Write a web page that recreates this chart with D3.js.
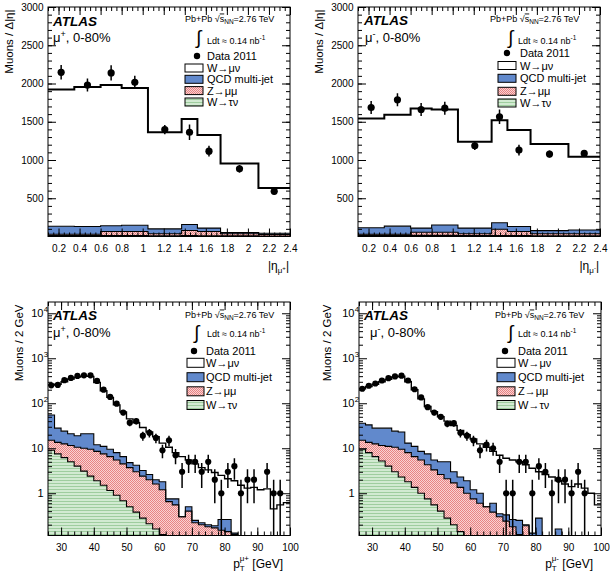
<!DOCTYPE html>
<html><head><meta charset="utf-8">
<script src="https://cdn.jsdelivr.net/npm/d3@7"></script>
<style>
body{margin:0;background:#fff;}
svg text{font-family:"Liberation Sans",Arial,Helvetica,sans-serif;}
</style></head><body>
<svg id="c" width="610" height="577"></svg>
<script>
// ---------------- DATA ----------------
const etaEdges = [0.1, 0.35, 0.6, 0.8, 1.05, 1.37, 1.52, 1.74, 2.1, 2.4];
const etaTicks = [0.2, 0.4, 0.6, 0.8, 1.0, 1.2, 1.4, 1.6, 1.8, 2.0, 2.2, 2.4];
const etaYTicks = [500, 1000, 1500, 2000, 2500, 3000];

const etaPlusData   = [2146, 1980, 2138, 2015, 1398, 1363, 1115, 885, 590];
const etaPlusErr    = [95, 85, 100, 85, 60, 100, 70, 50, 40];
const etaPlusWmunu  = [1786, 1825, 1840, 1793, 1263, 1381, 1218, 903, 590];
const etaPlusQCD    = [104, 100, 75, 82, 65, 78, 45, 17, 17];
const etaPlusZmumu  = [17, 17, 52, 52, 25, 66, 55, 27, 20];
const etaPlusWtaunu = [13, 13, 13, 13, 10, 12, 10, 8, 6];

const etaMinusData   = [1686, 1786, 1660, 1678, 1186, 1564, 1130, 1078, 1086];
const etaMinusErr    = [85, 85, 85, 85, 55, 95, 70, 45, 45];
const etaMinusWmunu  = [1427, 1455, 1563, 1510, 1129, 1341, 1261, 1132, 958];
const etaMinusQCD    = [85, 105, 55, 95, 75, 85, 65, 42, 50];
const etaMinusZmumu  = [15, 15, 40, 40, 23, 81, 53, 25, 26];
const etaMinusWtaunu = [15, 15, 15, 15, 12, 14, 12, 10, 9];

const ptEdges = d3.range(26, 101, 2); // 2 GeV bins, 26-100 GeV
const ptTicks = [30, 40, 50, 60, 70, 80, 90, 100];
const ptYTicks = [1, 10, 100, 1000, 10000];

const ptPlusData   = [250, 255, 325, 365, 405, 418, 418, 313, 200, 138, 98, 62, 37, 40, 19, 22, 17, 9, 15, 7, 3, 5, 5, 3, 5, 2, 1, 3, 4, 1, 2, 2, 0, 3, 1, 1, 0];
const ptPlusErr    = [16, 16, 18, 19, 20, 20, 20, 18, 14, 12, 10, 8, 6, 6.3, 4.4, 4.7, 4.1, 3, 3.9, 2.6, 1.7, 2.2, 2.2, 1.7, 2.2, 1.4, 1, 1.7, 2, 1, 1.4, 1.4, 0, 1.7, 1, 1, 0];
const ptPlusWmunu  = [200, 237, 276, 324, 361, 379, 374, 278, 179, 125.5, 84, 57.5, 40.2, 32.8, 25.8, 20.4, 16, 11.2, 9.75, 7.25, 6.2, 5.0, 4.25, 3.48, 3.1, 2.71, 2.24, 1.84, 1.77, 1.4, 1.22, 1.29, 1.15, 1.21, 0.42, 0.52, 0.6];
const ptPlusQCD    = [40, 14.5, 11.5, 9.5, 8.5, 11, 11.5, 3.5, 3.5, 3.0, 2.5, 2.0, 1.1, 1.2, 0.8, 0.6, 0.4, 0.6, 0.1, 0.2, 0, 0.1, 0.03, 0.02, 0.02, 0.02, 0.11, 0.12, 0.01, 0, 0, 0, 0, 0, 0, 0, 0];
const ptPlusZmumu  = [6, 6, 6.3, 6.5, 6.5, 6.9, 7.1, 6.6, 6.0, 5.35, 4.6, 3.82, 3.2, 2.62, 2.12, 1.79, 1.44, 1.08, 0.57, 0.49, 0.25, 0.36, 0.19, 0.18, 0.16, 0.16, 0.14, 0.13, 0.12, 0.1, 0.08, 0.06, 0.05, 0.04, 0.03, 0.03, 0.02];
const ptPlusWtaunu = [9, 7.5, 6.2, 5.0, 4.0, 3.1, 2.4, 1.9, 1.5, 1.15, 0.9, 0.68, 0.5, 0.38, 0.28, 0.21, 0.16, 0.12, 0.08, 0.06, 0.05, 0.04, 0.03, 0.02, 0.02, 0.01, 0.01, 0.01, 0, 0, 0, 0, 0, 0, 0, 0, 0];

const ptMinusData   = [210, 245, 275, 320, 360, 395, 410, 320, 205, 135, 82, 62, 50, 35, 36, 22, 19, 15, 9, 12, 10, 5, 1, 1, 5, 5, 1, 4, 3, 1, 2, 2, 1, 3, 1, 0, 0];
const ptMinusErr    = [14.5, 15.7, 16.6, 17.9, 19, 19.9, 20.2, 17.9, 14.3, 11.6, 9.1, 7.9, 7.1, 5.9, 6, 4.7, 4.4, 3.9, 3, 3.5, 3.2, 2.2, 1, 1, 2.2, 2.2, 1, 2, 1.7, 1, 1.4, 1.4, 1, 1.7, 1, 0, 0];
const ptMinusWmunu  = [174, 202, 237, 272, 312, 361, 377, 287, 189, 116.5, 77.5, 59.5, 45, 35, 29, 22.7, 18.1, 14.8, 11.5, 10, 7.9, 6.65, 5.67, 5.24, 4.75, 4.1, 3.47, 2.72, 2.5, 2.22, 1.74, 1.52, 1.35, 1.56, 1.27, 0.97, 0.52];
const ptMinusQCD    = [21, 19.5, 15.5, 16.5, 17, 13.5, 13.5, 5, 4.5, 3, 3.2, 2.2, 2.4, 2.9, 1.3, 0.95, 0.9, 0.45, 0.4, 0, 0.22, 0.05, 0.09, 0.08, 0.13, 0.01, 0.03, 0.2, 0.04, 0.03, 0.12, 0.05, 0.02, 0.02, 0.01, 0.01, 0.01];
const ptMinusZmumu  = [5.5, 5.5, 6.0, 6.3, 7.0, 7.5, 7.2, 6.2, 5.15, 4.5, 3.55, 2.75, 2.2, 1.82, 1.5, 1.21, 0.9, 0.68, 0.55, 0.46, 0.35, 0.28, 0.22, 0.17, 0.11, 0.19, 0.1, 0.08, 0.06, 0.05, 0.04, 0.03, 0.03, 0.02, 0.02, 0.02, 0.02];
const ptMinusWtaunu = [9.5, 8, 6.5, 5.2, 4.0, 3.0, 2.3, 1.8, 1.35, 1.0, 0.75, 0.55, 0.4, 0.28, 0.2, 0.14, 0.1, 0.07, 0.05, 0.04, 0.03, 0.02, 0.02, 0.01, 0.01, 0, 0, 0, 0, 0, 0, 0, 0, 0, 0, 0, 0];

const legendLabels = ["W\u2192\u03bc\u03bd", "QCD multi-jet", "Z\u2192\u03bc\u03bc", "W\u2192\u03c4\u03bd"];

// ---------------- STYLE ----------------
const FONT = '"Liberation Sans",Arial,Helvetica,sans-serif';
const svg = d3.select('#c');
svg.append('rect').attr('width', 610).attr('height', 577).attr('fill', '#fff');
const defs = svg.append('defs');

// Z -> mumu : fine red checker hatch (reads as pink)
const pz = defs.append('pattern').attr('id', 'patZ').attr('patternUnits', 'userSpaceOnUse').attr('width', 2).attr('height', 2);
pz.append('rect').attr('width', 2).attr('height', 2).attr('fill', '#f9d2d2').attr('shape-rendering', 'crispEdges');
pz.append('rect').attr('x', 0).attr('y', 0).attr('width', 1).attr('height', 1).attr('fill', '#e88383').attr('shape-rendering', 'crispEdges');
pz.append('rect').attr('x', 1).attr('y', 1).attr('width', 1).attr('height', 1).attr('fill', '#e88383').attr('shape-rendering', 'crispEdges');

// W -> taunu : light green, fine horizontal hatch
const pt = defs.append('pattern').attr('id', 'patT').attr('patternUnits', 'userSpaceOnUse').attr('width', 2).attr('height', 3);
pt.append('rect').attr('width', 2).attr('height', 3).attr('fill', '#d2ead2').attr('shape-rendering', 'crispEdges');
pt.append('rect').attr('x', 0).attr('y', 0).attr('width', 2).attr('height', 1).attr('fill', '#9fcd9f').attr('shape-rendering', 'crispEdges');

const fills = { tau: 'url(#patT)', z: 'url(#patZ)', qcd: '#6189cc', w: '#ffffff' };
const legendFills = [fills.w, fills.qcd, fills.z, fills.tau];

let clipN = 0;

function panel(cfg) {
  const g = svg.append('g');
  const L = cfg.left, T = cfg.top, W = cfg.width, H = cfg.height;
  const x = d3.scaleLinear().domain(cfg.xDomain).range([L, L + W]);
  const y = (cfg.log ? d3.scaleLog() : d3.scaleLinear()).domain(cfg.yDomain).range([T + H, T]).clamp(true);
  const floor = cfg.log ? cfg.yDomain[0] * 0.3 : 0;
  const yv = v => y(Math.max(v, floor));

  const cid = 'clip' + (clipN++);
  defs.append('clipPath').attr('id', cid).append('rect').attr('x', L).attr('y', T).attr('width', W).attr('height', H);
  const pg = g.append('g').attr('clip-path', `url(#${cid})`);

  const edges = cfg.edges;
  const rows = edges.slice(0, -1).map((e, i) => ({ tau: cfg.tau[i], z: cfg.z[i], qcd: cfg.qcd[i], w: cfg.w[i] }));
  const series = d3.stack().keys(['tau', 'z', 'qcd', 'w'])(rows);
  const pts = s => {
    const a = s.map((d, i) => ({ e: edges[i], y0: d[0], y1: d[1] }));
    a.push({ e: edges[edges.length - 1], y0: a[a.length - 1].y0, y1: a[a.length - 1].y1 });
    return a;
  };
  const area = d3.area().curve(d3.curveStepAfter).x(d => x(d.e)).y0(d => yv(d.y0)).y1(d => yv(d.y1));
  const line = d3.line().curve(d3.curveStepAfter).x(d => x(d.e)).y(d => yv(d.y1));
  series.forEach(s => pg.append('path').attr('d', area(pts(s))).attr('fill', fills[s.key]));
  series.forEach(s => pg.append('path').attr('d', line(pts(s))).attr('fill', 'none')
    .attr('stroke', '#000').attr('stroke-width', s.key === 'w' ? cfg.wStroke : 1.1));

  // data
  const centers = edges.slice(0, -1).map((e, i) => (e + edges[i + 1]) / 2);
  const dd = cfg.data.map((v, i) => ({ c: centers[i], v, e: cfg.err[i] })).filter(d => d.v > 0);
  pg.selectAll('line.err').data(dd).join('line').attr('class', 'err')
    .attr('x1', d => x(d.c)).attr('x2', d => x(d.c))
    .attr('y1', d => yv(d.v + d.e)).attr('y2', d => yv(d.v - d.e))
    .attr('stroke', '#000').attr('stroke-width', 1.5);
  pg.selectAll('circle.pt').data(dd).join('circle').attr('class', 'pt')
    .attr('cx', d => x(d.c)).attr('cy', d => y(d.v)).attr('r', cfg.r).attr('fill', '#000');

  // axes
  const axG = g.append('g').attr('font-family', FONT).attr('font-size', 11);
  const styleAx = sel => { sel.select('.domain').remove(); sel.selectAll('line').attr('stroke', '#000'); sel.selectAll('text').attr('fill', '#000'); };
  axG.append('g').attr('transform', `translate(0,${T + H})`)
    .call(d3.axisBottom(x).tickValues(cfg.xTicks).tickSizeInner(-8).tickSizeOuter(0).tickPadding(8).tickFormat(d => String(+d.toFixed(1)))).call(styleAx);
  axG.append('g').attr('transform', `translate(0,${T + H})`)
    .call(d3.axisBottom(x).tickValues(cfg.xMinor).tickSizeInner(-4).tickSizeOuter(0).tickFormat('')).call(styleAx);
  axG.append('g').attr('transform', `translate(0,${T})`)
    .call(d3.axisTop(x).tickValues(cfg.xTicks).tickSizeInner(-8).tickSizeOuter(0).tickFormat('')).call(styleAx);
  axG.append('g').attr('transform', `translate(0,${T})`)
    .call(d3.axisTop(x).tickValues(cfg.xMinor).tickSizeInner(-4).tickSizeOuter(0).tickFormat('')).call(styleAx);
  const yLab = cfg.log ? '' : (d => String(d));
  axG.append('g').attr('transform', `translate(${L},0)`)
    .call(d3.axisLeft(y).tickValues(cfg.yTicks).tickSizeInner(-8).tickSizeOuter(0).tickPadding(4.5).tickFormat(yLab)).call(styleAx);
  axG.append('g').attr('transform', `translate(${L},0)`)
    .call(d3.axisLeft(y).tickValues(cfg.yMinor).tickSizeInner(-4).tickSizeOuter(0).tickFormat('')).call(styleAx);
  axG.append('g').attr('transform', `translate(${L + W},0)`)
    .call(d3.axisRight(y).tickValues(cfg.yTicks).tickSizeInner(-8).tickSizeOuter(0).tickFormat('')).call(styleAx);
  axG.append('g').attr('transform', `translate(${L + W},0)`)
    .call(d3.axisRight(y).tickValues(cfg.yMinor).tickSizeInner(-4).tickSizeOuter(0).tickFormat('')).call(styleAx);
  if (cfg.log) {
    cfg.yTicks.forEach(v => {
      const yy = y(v) + 4;
      if (v >= 100) {
        g.append('text').attr('x', L - 4.5).attr('y', yy).attr('text-anchor', 'end').attr('font-size', 11).text('10');
        g.append('text').attr('x', L - 4.3).attr('y', yy - 5).attr('font-size', 8).text(String(Math.round(Math.log10(v))));
      } else {
        g.append('text').attr('x', L - 4.5).attr('y', yy).attr('text-anchor', 'end').attr('font-size', 11).text(String(v));
      }
    });
  }
  g.append('rect').attr('x', L).attr('y', T).attr('width', W).attr('height', H)
    .attr('fill', 'none').attr('stroke', '#000').attr('stroke-width', 1);

  // titles
  const yt = g.append('text').attr('transform', `translate(${cfg.yTitleX},${T + 2.5}) rotate(-90)`)
    .attr('text-anchor', 'end').attr('font-size', 11.5);
  yt.text(cfg.yTitle);
  const xt = g.append('text').attr('x', cfg.xTitleX).attr('y', cfg.xTitleY).attr('text-anchor', 'end').attr('font-size', 12);
  cfg.xTitle(xt);

  // ATLAS label
  g.append('text').attr('x', cfg.atlasX).attr('y', cfg.atlasY).attr('font-size', 13.5)
    .attr('font-weight', 'bold').attr('font-style', 'italic').text('ATLAS');
  const ch = g.append('text').attr('x', cfg.chX).attr('y', cfg.chY).attr('font-size', 13);
  ch.append('tspan').text('\u03bc');
  ch.append('tspan').attr('font-size', 9).attr('dy', -5).text(cfg.charge);
  ch.append('tspan').attr('dy', 5).text(', 0-80%');

  // legend
  const lg = cfg.leg;
  const en = g.append('text').attr('x', lg.enX).attr('y', lg.enY).attr('font-size', 9);
  en.append('tspan').text('Pb+Pb \u221a');
  en.append('tspan').attr('text-decoration', 'overline').text('s');
  en.append('tspan').attr('font-size', 6.5).attr('dy', 2).text('NN');
  en.append('tspan').attr('dy', -2).text('=2.76 TeV');
  g.append('text').attr('x', lg.intX).attr('y', lg.intY).attr('font-size', 19).attr('font-family', '"DejaVu Sans"').text('\u222b');
  const lu = g.append('text').attr('x', lg.lumX).attr('y', lg.lumY).attr('font-size', 9);
  lu.append('tspan').text('Ldt \u2248 0.14 nb');
  lu.append('tspan').attr('font-size', 6.5).attr('dy', -4).text('-1');
  g.append('circle').attr('cx', lg.dotX).attr('cy', lg.dotY).attr('r', 3.2).attr('fill', '#000');
  g.append('text').attr('x', lg.textX).attr('y', lg.dotY + 4).attr('font-size', 11).text('Data 2011');
  lg.rows.forEach((ry, i) => {
    g.append('rect').attr('x', lg.boxX).attr('y', ry - lg.boxH / 2).attr('width', lg.boxW).attr('height', lg.boxH)
      .attr('fill', legendFills[i]).attr('stroke', '#000').attr('stroke-width', 1);
    g.append('text').attr('x', lg.textX).attr('y', ry + 4).attr('font-size', 11).text(legendLabels[i]);
  });
}

function etaTitle(charge) {
  return t => {
    t.append('tspan').text('|\u03b7');
    t.append('tspan').attr('font-size', 8).attr('dy', 3).text('\u03bc');
    t.append('tspan').attr('font-size', 6).attr('dy', -3).text(charge);
    t.append('tspan').attr('dy', 0).text('|');
  };
}
function ptTitle(charge) {
  return t => {
    t.append('tspan').text('p');
    t.append('tspan').attr('font-size', 8).attr('dy', 3).text('T');
    t.append('tspan').attr('font-size', 8).attr('dx', -5).attr('dy', -10).text('\u03bc' + charge);
    t.append('tspan').attr('dy', 7).text(' [GeV]');
  };
}

const etaMinor = d3.range(0, 50).map(i => 0.1 + i * 0.05).filter(v => v <= 2.4001);
const etaYMinor = d3.range(1, 30).map(i => i * 100);
const ptMinor = ptEdges;
const logMinor = [];
[0.1, 1, 10, 100, 1000, 10000].forEach(b => { for (let k = 2; k <= 9; k++) logMinor.push(b * k); });
const logMinorIn = logMinor.filter(v => v > 0.115 && v < 17800);

panel({
  left: 48, top: 7, width: 242, height: 229.5, xDomain: [0.1, 2.4], yDomain: [0, 3000], log: false,
  edges: etaEdges, data: etaPlusData, err: etaPlusErr, w: etaPlusWmunu, qcd: etaPlusQCD, z: etaPlusZmumu, tau: etaPlusWtaunu,
  xTicks: etaTicks, xMinor: etaMinor, yTicks: etaYTicks, yMinor: etaYMinor, r: 3.6, wStroke: 2,
  yTitle: 'Muons / \u0394|\u03b7|', yTitleX: 13, xTitle: etaTitle('+'), xTitleX: 289, xTitleY: 270,
  atlasX: 53, atlasY: 26, chX: 53, chY: 42, charge: '+',
  leg: { enX: 185, enY: 21.5, intX: 196, intY: 44, lumX: 207, lumY: 44, dotX: 197, dotY: 56, textX: 207,
         boxX: 185, boxW: 18, boxH: 8, rows: [68, 79.3, 90.6, 102] }
});
panel({
  left: 358, top: 7, width: 242, height: 229.5, xDomain: [0.1, 2.4], yDomain: [0, 3000], log: false,
  edges: etaEdges, data: etaMinusData, err: etaMinusErr, w: etaMinusWmunu, qcd: etaMinusQCD, z: etaMinusZmumu, tau: etaMinusWtaunu,
  xTicks: etaTicks, xMinor: etaMinor, yTicks: etaYTicks, yMinor: etaYMinor, r: 3.6, wStroke: 2,
  yTitle: 'Muons / \u0394|\u03b7|', yTitleX: 323, xTitle: etaTitle('-'), xTitleX: 599, xTitleY: 270,
  atlasX: 364, atlasY: 25, chX: 365, chY: 42, charge: '-',
  leg: { enX: 490, enY: 21.5, intX: 508, intY: 44, lumX: 518, lumY: 44, dotX: 507, dotY: 53, textX: 520,
         boxX: 498, boxW: 18, boxH: 8, rows: [65.5, 78.3, 91.3, 103] }
});
panel({
  left: 48, top: 302, width: 242, height: 233.5, xDomain: [26, 100], yDomain: [0.115, 17800], log: true,
  edges: ptEdges, data: ptPlusData, err: ptPlusErr, w: ptPlusWmunu, qcd: ptPlusQCD, z: ptPlusZmumu, tau: ptPlusWtaunu,
  xTicks: ptTicks, xMinor: ptMinor, yTicks: ptYTicks, yMinor: logMinorIn, r: 3.1, wStroke: 1.4,
  yTitle: 'Muons / 2 GeV', yTitleX: 23, xTitle: ptTitle('+'), xTitleX: 283, xTitleY: 568,
  atlasX: 53, atlasY: 320, chX: 53, chY: 337, charge: '+',
  leg: { enX: 185, enY: 317.5, intX: 194, intY: 339, lumX: 207, lumY: 336.5, dotX: 194, dotY: 351, textX: 206,
         boxX: 187, boxW: 17, boxH: 9, rows: [362.8, 377.2, 391.3, 405] }
});
panel({
  left: 359, top: 302, width: 242, height: 233.5, xDomain: [26, 100], yDomain: [0.115, 17800], log: true,
  edges: ptEdges, data: ptMinusData, err: ptMinusErr, w: ptMinusWmunu, qcd: ptMinusQCD, z: ptMinusZmumu, tau: ptMinusWtaunu,
  xTicks: ptTicks, xMinor: ptMinor, yTicks: ptYTicks, yMinor: logMinorIn, r: 3.1, wStroke: 1.4,
  yTitle: 'Muons / 2 GeV', yTitleX: 331, xTitle: ptTitle('-'), xTitleX: 593, xTitleY: 568,
  atlasX: 364, atlasY: 320, chX: 370, chY: 337, charge: '-',
  leg: { enX: 495, enY: 317.5, intX: 508, intY: 339, lumX: 518, lumY: 336.5, dotX: 505, dotY: 351, textX: 518,
         boxX: 497, boxW: 18, boxH: 9, rows: [362.8, 377.2, 391.3, 405] }
});
</script>
</body></html>
